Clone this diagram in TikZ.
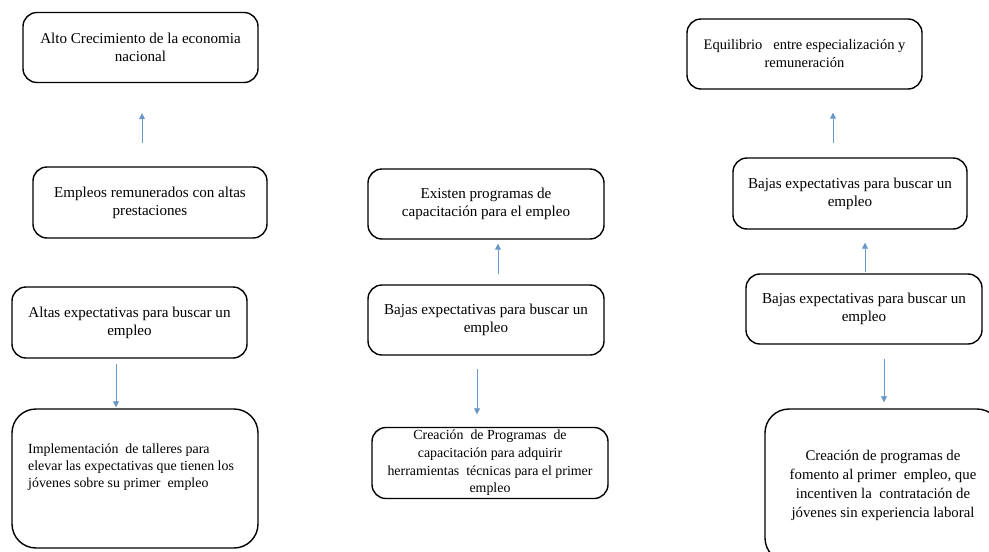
\documentclass[tikz,border=0pt]{standalone}
\usepackage{fontspec}
\setmainfont{Liberation Serif}
\usetikzlibrary{arrows.meta}
\definecolor{arrblue}{RGB}{105,152,200}
\begin{document}
\begin{tikzpicture}[x=1pt,y=-1pt,
  box/.style={draw=black,line width=1.4pt,rounded corners=14pt,inner sep=0pt,
    minimum width=235pt,minimum height=70pt,align=center,
    font=\fontsize{15.1}{18}\selectfont},
  bigbox/.style={box,rounded corners=24pt},
  smalltext/.style={font=\fontsize{13.9}{17}\selectfont},
  arr/.style={draw=arrblue,line width=0.8pt,-{Triangle[length=6pt,width=6pt]}}]
\useasboundingbox (0,0) rectangle (989,552);
\clip (0,0) rectangle (989,552);
% left column
\node[box] (A1) at (140.5,47.5) {Alto Crecimiento de la economia\\nacional};
\node[box,minimum width=234pt,minimum height=71pt] (A2) at (150,202.5) {Empleos remunerados con altas\\prestaciones};
\node[box,minimum height=71pt] (A3) at (129.5,322.5) {Altas expectativas para buscar un\\empleo};
\node[bigbox,minimum width=246pt,minimum height=139pt] (A4) at (135,478.5) {};
\node[smalltext,anchor=north west,align=left,inner sep=0pt] (A4t) at (28,444)
  {Implementación\ \ de talleres para\\elevar las expectativas que tienen los\\jóvenes sobre su primer\ \ empleo};
% middle column
\node[box,minimum width=236pt] (B1) at (486,204) {Existen programas de\\capacitación para el empleo};
\node[box,minimum width=236pt] (B2) at (486,320) {Bajas expectativas para buscar un\\empleo};
\node[box,minimum width=236pt,minimum height=71pt,font=\fontsize{13.9}{17.6}\selectfont] (B3) at (490,463)
  {Creación\ \ de Programas\ \ de\\capacitación para adquirir\\herramientas\ \ técnicas para el primer\\empleo};
% right column
\node[box,font=\fontsize{14.5}{18}\selectfont] (C1) at (804.5,54) {Equilibrio\ \ \ entre especialización y\\remuneración};
\node[box,minimum width=234pt,minimum height=71pt] (C2) at (850,193.5) {Bajas expectativas para buscar un\\empleo};
\node[box,minimum width=236pt] (C3) at (864,309) {Bajas expectativas para buscar un\\empleo};
\node[bigbox,minimum width=236pt,minimum height=153pt,font=\fontsize{14.8}{19}\selectfont] (C4) at (883,485.5)
  {Creación de programas de\\fomento al primer\ \ empleo, que\\incentiven la\ \ contratación de\\jóvenes sin experiencia laboral};
% arrows
\draw[arr] ([xshift=-8pt,yshift=23pt]A2.north) -- ([xshift=1.5pt,yshift=-30pt]A1.south);
\draw[arr] ([xshift=-13.5pt,yshift=-5pt]A3.south) -- ([xshift=-19pt,yshift=1pt]A4.north);
\draw[arr] ([xshift=12pt,yshift=10pt]B2.north) -- ([xshift=12pt,yshift=-4pt]B1.south);
\draw[arr] ([xshift=-9pt,yshift=-13pt]B2.south) -- ([xshift=-13pt,yshift=12.5pt]B3.north);
\draw[arr] ([xshift=-17pt,yshift=14pt]C2.north) -- ([xshift=28.5pt,yshift=-23pt]C1.south);
\draw[arr] ([xshift=1pt,yshift=1pt]C3.north) -- ([xshift=15pt,yshift=-13pt]C2.south);
\draw[arr] ([xshift=20pt,yshift=-14pt]C3.south) -- ([xshift=1pt,yshift=6pt]C4.north);
\end{tikzpicture}
\end{document}
